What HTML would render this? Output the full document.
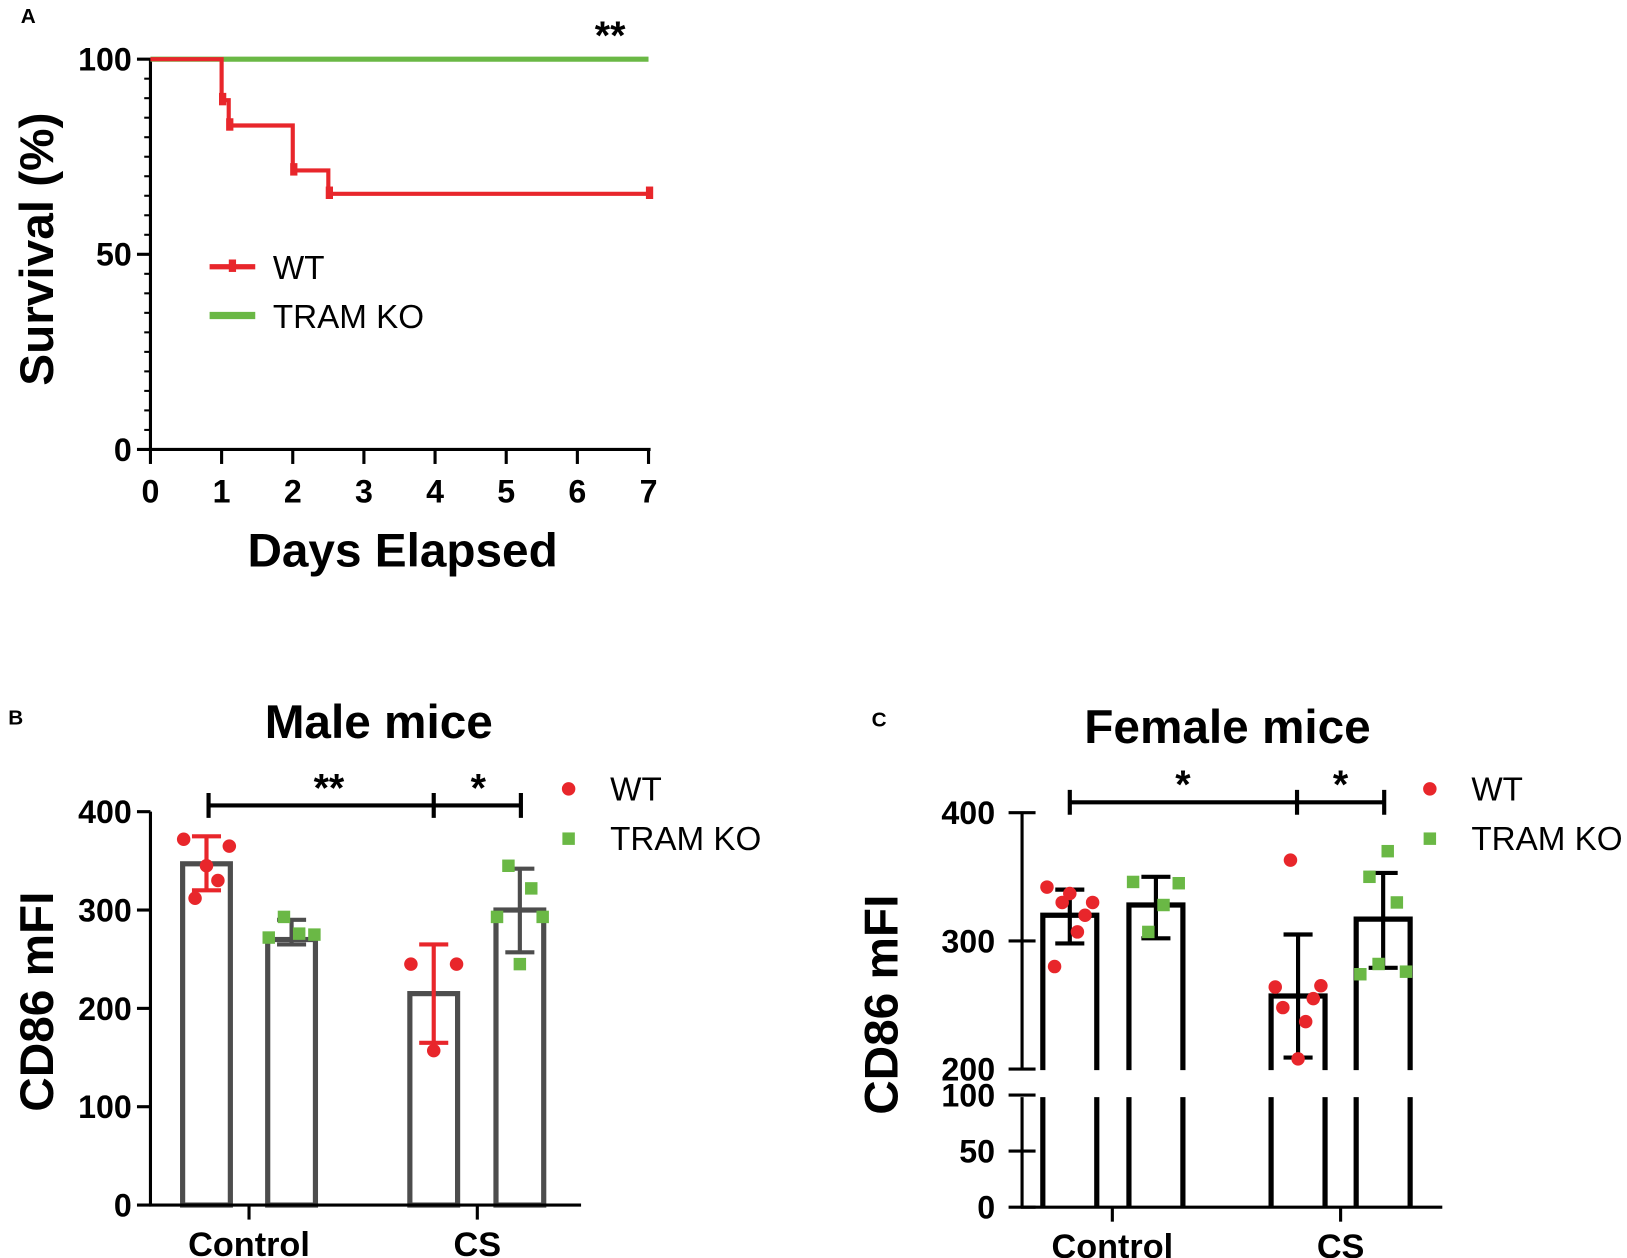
<!DOCTYPE html>
<html><head><meta charset="utf-8"><style>
html,body{margin:0;padding:0;background:#fff}
svg{display:block}
text{font-family:"Liberation Sans",Arial,sans-serif}
</style></head><body>
<svg id="fig" width="1627" height="1258" viewBox="0 0 1568 1212" preserveAspectRatio="none" xmlns="http://www.w3.org/2000/svg">
<g id="A"></g>
<g id="B"></g>
<g id="C"></g>
</svg>
<script>
// Panel A data
const survDaysWT = [0, 1, 1.1, 2, 2.5, 7];
const survWT = [100, 89.5, 83, 71.5, 65.5, 65.5];
const survDaysKO = [0, 7];
const survKO = [100, 100];
const dayTicks = [0,1,2,3,4,5,6,7];
const survTicks = [0,50,100];
// Panel B data
const bCats = ["Control","CS"];
const bWT = [347, 215];
const bKO = [270, 300];
const bWTerr = [[320,375],[165,265]];
const bKOerr = [[265,290],[257,342]];
const bWTpts = [[372,312,345,330,365],[245,157,245]];
const bKOpts = [[272,293,276,275],[293,345,245,322,293]];
const bTicks = [0,100,200,300,400];
// Panel C data
const cWT = [320, 257];
const cKO = [328, 317];
const cWTerr = [[298,340],[209,305]];
const cKOerr = [[302,350],[279,353]];
const cWTpts = [[342,280,330,337,307,320,330],[264,248,363,208,237,255,265]];
const cKOpts = [[346,307,328,345],[274,350,282,370,330,276]];
const cTicksUpper = [200,300,400];
const cTicksLower = [0,50,100];

const NS="http://www.w3.org/2000/svg";
function mk(parent,tag,attrs,name,txt){const e=document.createElementNS(NS,tag);for(const k in attrs)e.setAttribute(k,attrs[k]);


if(txt!==undefined)e.textContent=txt;parent.appendChild(e);return e;}
const RED="#e8262b",GRN="#6ab845",GRY="#4d4d4d";

// ---------- Panel A ----------
const A=document.getElementById('A');
const ax=d=>145+d*(480/7), ay=v=>433-v*3.76;
mk(A,'text',{x:20,y:22,'font-size':20,'font-weight':'bold'},'panel-label-a','A');
mk(A,'line',{x1:145,y1:57,x2:145,y2:433,stroke:'#000','stroke-width':3},'y-axis');
mk(A,'line',{x1:145,y1:433,x2:627,y2:433,stroke:'#000','stroke-width':3},'x-axis');
for(let v=0;v<=100;v+=5){const major=v%50===0;mk(A,'line',{x1:major?132:139,y1:ay(v),x2:145,y2:ay(v),stroke:'#000','stroke-width':major?3:2},'y-tick');}
survTicks.forEach(v=>mk(A,'text',{x:127,y:ay(v)+11,'font-size':31,'font-weight':'bold','text-anchor':'end'},'y-tick-label',v));
dayTicks.forEach(d=>{mk(A,'line',{x1:ax(d),y1:433,x2:ax(d),y2:447,stroke:'#000','stroke-width':3},'x-tick');
mk(A,'text',{x:ax(d),y:484,'font-size':31,'font-weight':'bold','text-anchor':'middle'},'x-tick-label',d);});
mk(A,'text',{x:388,y:546,'font-size':46,'font-weight':'bold','text-anchor':'middle'},'x-axis-title','Days Elapsed');
mk(A,'text',{x:0,y:0,'font-size':46,'font-weight':'bold','text-anchor':'middle',transform:'translate(51,240) rotate(-90)'},'y-axis-title','Survival (%)');
function step(days,vals){let p=`M${ax(days[0])},${ay(vals[0])}`;for(let i=1;i<days.length;i++){p+=`H${ax(days[i])}V${ay(vals[i])}`;}return p;}
mk(A,'path',{d:step(survDaysKO,survKO),fill:'none',stroke:GRN,'stroke-width':5},'tram-ko-survival-line');
mk(A,'path',{d:step(survDaysWT,survWT),fill:'none',stroke:RED,'stroke-width':4},'wt-survival-line');
for(let i=1;i<survDaysWT.length;i++){mk(A,'line',{x1:ax(survDaysWT[i])+1,y1:ay(survWT[i])-7,x2:ax(survDaysWT[i])+1,y2:ay(survWT[i])+5,stroke:RED,'stroke-width':7},'wt-censor-mark');}
mk(A,'text',{x:588,y:47,'font-size':38,'font-weight':'bold','text-anchor':'middle'},'significance-a','**');
mk(A,'line',{x1:202,y1:257,x2:246,y2:257,stroke:RED,'stroke-width':5},'legend-wt-line');
mk(A,'line',{x1:224,y1:250,x2:224,y2:262,stroke:RED,'stroke-width':7},'legend-wt-mark');
mk(A,'text',{x:263,y:269,'font-size':32},'legend-wt-label','WT');
mk(A,'line',{x1:202,y1:304,x2:246,y2:304,stroke:GRN,'stroke-width':7},'legend-ko-line');
mk(A,'text',{x:263,y:316,'font-size':32},'legend-ko-label','TRAM KO');

// ---------- bar panel helper ----------
function markers(g,cx,pts,y,isSq,col,name){pts.forEach((v,i)=>{const x=cx+(pts.length===1?0:(i-(pts.length-1)/2)*(44/Math.max(pts.length-1,1)));
if(isSq)mk(g,'rect',{x:x-6,y:y(v)-6,width:12,height:12,fill:col},name);else mk(g,'circle',{cx:x,cy:y(v),r:6.5,fill:col},name);});}
function errbar(g,cx,e,y,col,name){mk(g,'path',{d:`M${cx},${y(e[0])}V${y(e[1])}M${cx-14},${y(e[0])}H${cx+14}M${cx-14},${y(e[1])}H${cx+14}`,stroke:col,'stroke-width':4,fill:'none'},name);}

// ---------- Panel B ----------
const B=document.getElementById('B');
const by=v=>1161-v*0.9475;
mk(B,'text',{x:8,y:698,'font-size':20,'font-weight':'bold'},'panel-label-b','B');
mk(B,'text',{x:365,y:711,'font-size':46,'font-weight':'bold','text-anchor':'middle'},'chart-title-b','Male mice');
const bCenters=[[199,281],[418,501]];
for(let c=0;c<2;c++){
 const [xw,xk]=bCenters[c];
 mk(B,'rect',{x:xw-23,y:by(bWT[c]),width:46,height:by(0)-by(bWT[c]),fill:'none',stroke:GRY,'stroke-width':5},'bar-wt-'+bCats[c]);
 mk(B,'rect',{x:xk-23,y:by(bKO[c]),width:46,height:by(0)-by(bKO[c]),fill:'none',stroke:GRY,'stroke-width':5},'bar-ko-'+bCats[c]);
 errbar(B,xw,bWTerr[c],by,RED,'errorbar-wt');errbar(B,xk,bKOerr[c],by,GRY,'errorbar-ko');
 markers(B,xw,bWTpts[c],by,false,RED,'point-wt');markers(B,xk,bKOpts[c],by,true,GRN,'point-ko');
}
mk(B,'line',{x1:145,y1:782,x2:145,y2:1162,stroke:'#000','stroke-width':3},'y-axis-b');
mk(B,'line',{x1:144,y1:1161,x2:560,y2:1161,stroke:'#000','stroke-width':3},'x-axis-b');
bTicks.forEach(v=>{mk(B,'line',{x1:132,y1:by(v),x2:145,y2:by(v),stroke:'#000','stroke-width':3},'y-tick');
mk(B,'text',{x:127,y:by(v)+11,'font-size':31,'font-weight':'bold','text-anchor':'end'},'y-tick-label',v);});
[240,460].forEach((x,i)=>{mk(B,'line',{x1:x,y1:1161,x2:x,y2:1175,stroke:'#000','stroke-width':3},'x-tick');
mk(B,'text',{x:x,y:1210,'font-size':33,'font-weight':'bold','text-anchor':'middle'},'x-tick-label',bCats[i]);});
mk(B,'text',{x:0,y:0,'font-size':46,'font-weight':'bold','text-anchor':'middle',transform:'translate(51,965) rotate(-90)'},'y-axis-title-b','CD86 mFI');
mk(B,'path',{d:'M201,776H502M201,764V788M418,764V788M502,764V788',stroke:'#000','stroke-width':4,fill:'none'},'significance-bracket-b');
mk(B,'text',{x:317,y:772,'font-size':38,'font-weight':'bold','text-anchor':'middle'},'significance-b1','**');
mk(B,'text',{x:461,y:772,'font-size':38,'font-weight':'bold','text-anchor':'middle'},'significance-b2','*');
mk(B,'circle',{cx:548,cy:760,r:6.5,fill:RED},'legend-wt-marker-b');
mk(B,'text',{x:588,y:771,'font-size':32},'legend-wt-label-b','WT');
mk(B,'rect',{x:542,y:802,width:12,height:12,fill:GRN},'legend-ko-marker-b');
mk(B,'text',{x:588,y:819,'font-size':32},'legend-ko-label-b','TRAM KO');

// ---------- Panel C ----------
const C=document.getElementById('C');
const cy=v=>v>=200?1030-(v-200)*1.235:1163-v*1.08;
mk(C,'text',{x:840,y:700,'font-size':20,'font-weight':'bold'},'panel-label-c','C');
mk(C,'text',{x:1183,y:716,'font-size':46,'font-weight':'bold','text-anchor':'middle'},'chart-title-c','Female mice');
const cCenters=[[1031,1114],[1251,1333]];
function cbar(cx,v,name){mk(C,'path',{d:`M${cx-26},1031V${cy(v)}H${cx+26}V1031M${cx-26},1057V1163M${cx+26},1057V1163`,fill:'none',stroke:'#000','stroke-width':5},name);}
for(let c=0;c<2;c++){
 const [xw,xk]=cCenters[c];
 cbar(xw,cWT[c],'bar-wt-'+bCats[c]);cbar(xk,cKO[c],'bar-ko-'+bCats[c]);
 errbar(C,xw,cWTerr[c],cy,'#000','errorbar-wt');errbar(C,xk,cKOerr[c],cy,'#000','errorbar-ko');
 markers(C,xw,cWTpts[c],cy,false,RED,'point-wt');markers(C,xk,cKOpts[c],cy,true,GRN,'point-ko');
}
mk(C,'line',{x1:985,y1:783,x2:985,y2:1031,stroke:'#000','stroke-width':3},'y-axis-c-upper');
mk(C,'line',{x1:985,y1:1057,x2:985,y2:1164,stroke:'#000','stroke-width':3},'y-axis-c-lower');
mk(C,'line',{x1:984,y1:1163,x2:1390,y2:1163,stroke:'#000','stroke-width':3},'x-axis-c');
cTicksUpper.concat(cTicksLower).forEach(v=>{mk(C,'line',{x1:972,y1:cy(v),x2:998,y2:cy(v),stroke:'#000','stroke-width':3},'y-tick');
mk(C,'text',{x:959,y:cy(v)+11,'font-size':31,'font-weight':'bold','text-anchor':'end'},'y-tick-label',v);});
[1072,1292].forEach((x,i)=>{mk(C,'line',{x1:x,y1:1163,x2:x,y2:1177,stroke:'#000','stroke-width':3},'x-tick');
mk(C,'text',{x:x,y:1212,'font-size':33,'font-weight':'bold','text-anchor':'middle'},'x-tick-label',bCats[i]);});
mk(C,'text',{x:0,y:0,'font-size':46,'font-weight':'bold','text-anchor':'middle',transform:'translate(865,968) rotate(-90)'},'y-axis-title-c','CD86 mFI');
mk(C,'path',{d:'M1031,773H1334M1031,761V785M1250,761V785M1334,761V785',stroke:'#000','stroke-width':4,fill:'none'},'significance-bracket-c');
mk(C,'text',{x:1140,y:769,'font-size':38,'font-weight':'bold','text-anchor':'middle'},'significance-c1','*');
mk(C,'text',{x:1292,y:769,'font-size':38,'font-weight':'bold','text-anchor':'middle'},'significance-c2','*');
mk(C,'circle',{cx:1378,cy:760,r:6.5,fill:RED},'legend-wt-marker-c');
mk(C,'text',{x:1418,y:771,'font-size':32},'legend-wt-label-c','WT');
mk(C,'rect',{x:1372,y:802,width:12,height:12,fill:GRN},'legend-ko-marker-c');
mk(C,'text',{x:1418,y:819,'font-size':32},'legend-ko-label-c','TRAM KO');
</script>
</body></html>
